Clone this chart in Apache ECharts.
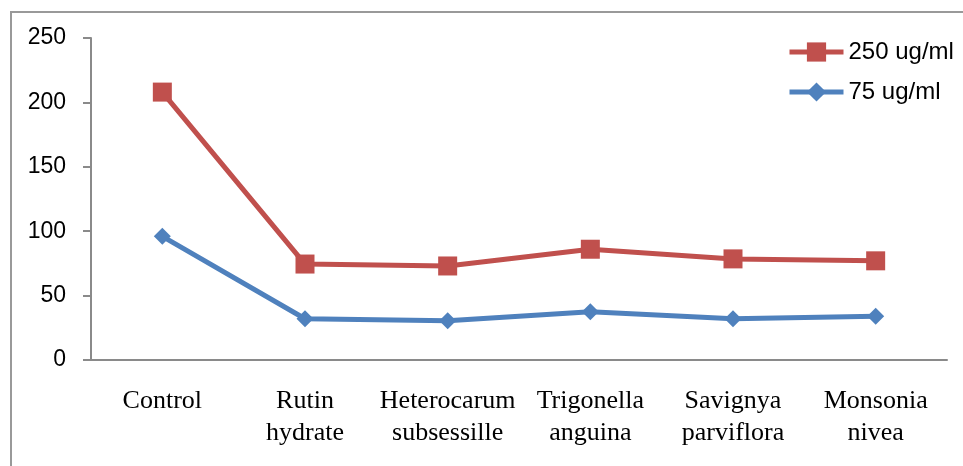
<!DOCTYPE html>
<html>
<head>
<meta charset="UTF-8">
<script src="https://cdn.jsdelivr.net/npm/echarts@6/dist/echarts.min.js"></script>
<style>
  body { margin: 0; background: #fff; }
  #frame { position: absolute; left: 10px; top: 11px; width: 980px; height: 480px; border: 2px solid #999; box-sizing: border-box; }
  #main { position: absolute; left: 0; top: 0; width: 963px; height: 466px; }
</style>
</head>
<body>
<div id="frame"></div>
<div id="main"></div>
<script>
var categories = ['Control', 'Rutin\nhydrate', 'Heterocarum\nsubsessille', 'Trigonella\nanguina', 'Savignya\nparviflora', 'Monsonia\nnivea'];
var high = [208, 74.5, 73, 86, 78.5, 77];
var low = [96, 32, 30.5, 37.5, 32, 34];
var yTicks = [0, 50, 100, 150, 200, 250];

var chart = echarts.init(document.getElementById('main'));
chart.setOption({
  animation: false,
  grid: { left: 91, right: 16, top: 38, bottom: 106 },
  legend: {
    orient: 'vertical', left: 782, top: 35,
    itemWidth: 54, itemHeight: 24, itemGap: 16,
    lineStyle: { width: 5 },
    textStyle: { fontFamily: '"Liberation Sans", sans-serif', fontSize: 24, color: '#000' },
    data: ['250 ug/ml', '75 ug/ml']
  },
  xAxis: {
    type: 'category',
    data: categories,
    boundaryGap: true,
    axisLine: { lineStyle: { color: '#8a8a8a', width: 2 } },
    axisTick: { alignWithLabel: false, length: 7, lineStyle: { color: '#8a8a8a', width: 2 } },
    axisLabel: { interval: 0, margin: 25, fontFamily: '"Liberation Serif", serif', fontSize: 26, color: '#000', lineHeight: 32 }
  },
  yAxis: {
    type: 'value', min: yTicks[0], max: yTicks[yTicks.length - 1], interval: 50,
    splitLine: { show: false },
    axisLine: { show: true, lineStyle: { color: '#8a8a8a', width: 2 } },
    axisTick: { show: true, length: 8, lineStyle: { color: '#8a8a8a', width: 2 } },
    axisLabel: { margin: 25, fontFamily: '"Liberation Sans", sans-serif', fontSize: 23, color: '#000' }
  },
  series: [
    {
      name: '250 ug/ml', type: 'line', data: high,
      symbol: 'rect', symbolSize: 19,
      lineStyle: { color: '#C0504D', width: 5 },
      itemStyle: { color: '#C0504D' }
    },
    {
      name: '75 ug/ml', type: 'line', data: low,
      symbol: 'diamond', symbolSize: 17,
      lineStyle: { color: '#4F81BD', width: 5 },
      itemStyle: { color: '#4F81BD' }
    }
  ]
});
</script>
</body>
</html>
